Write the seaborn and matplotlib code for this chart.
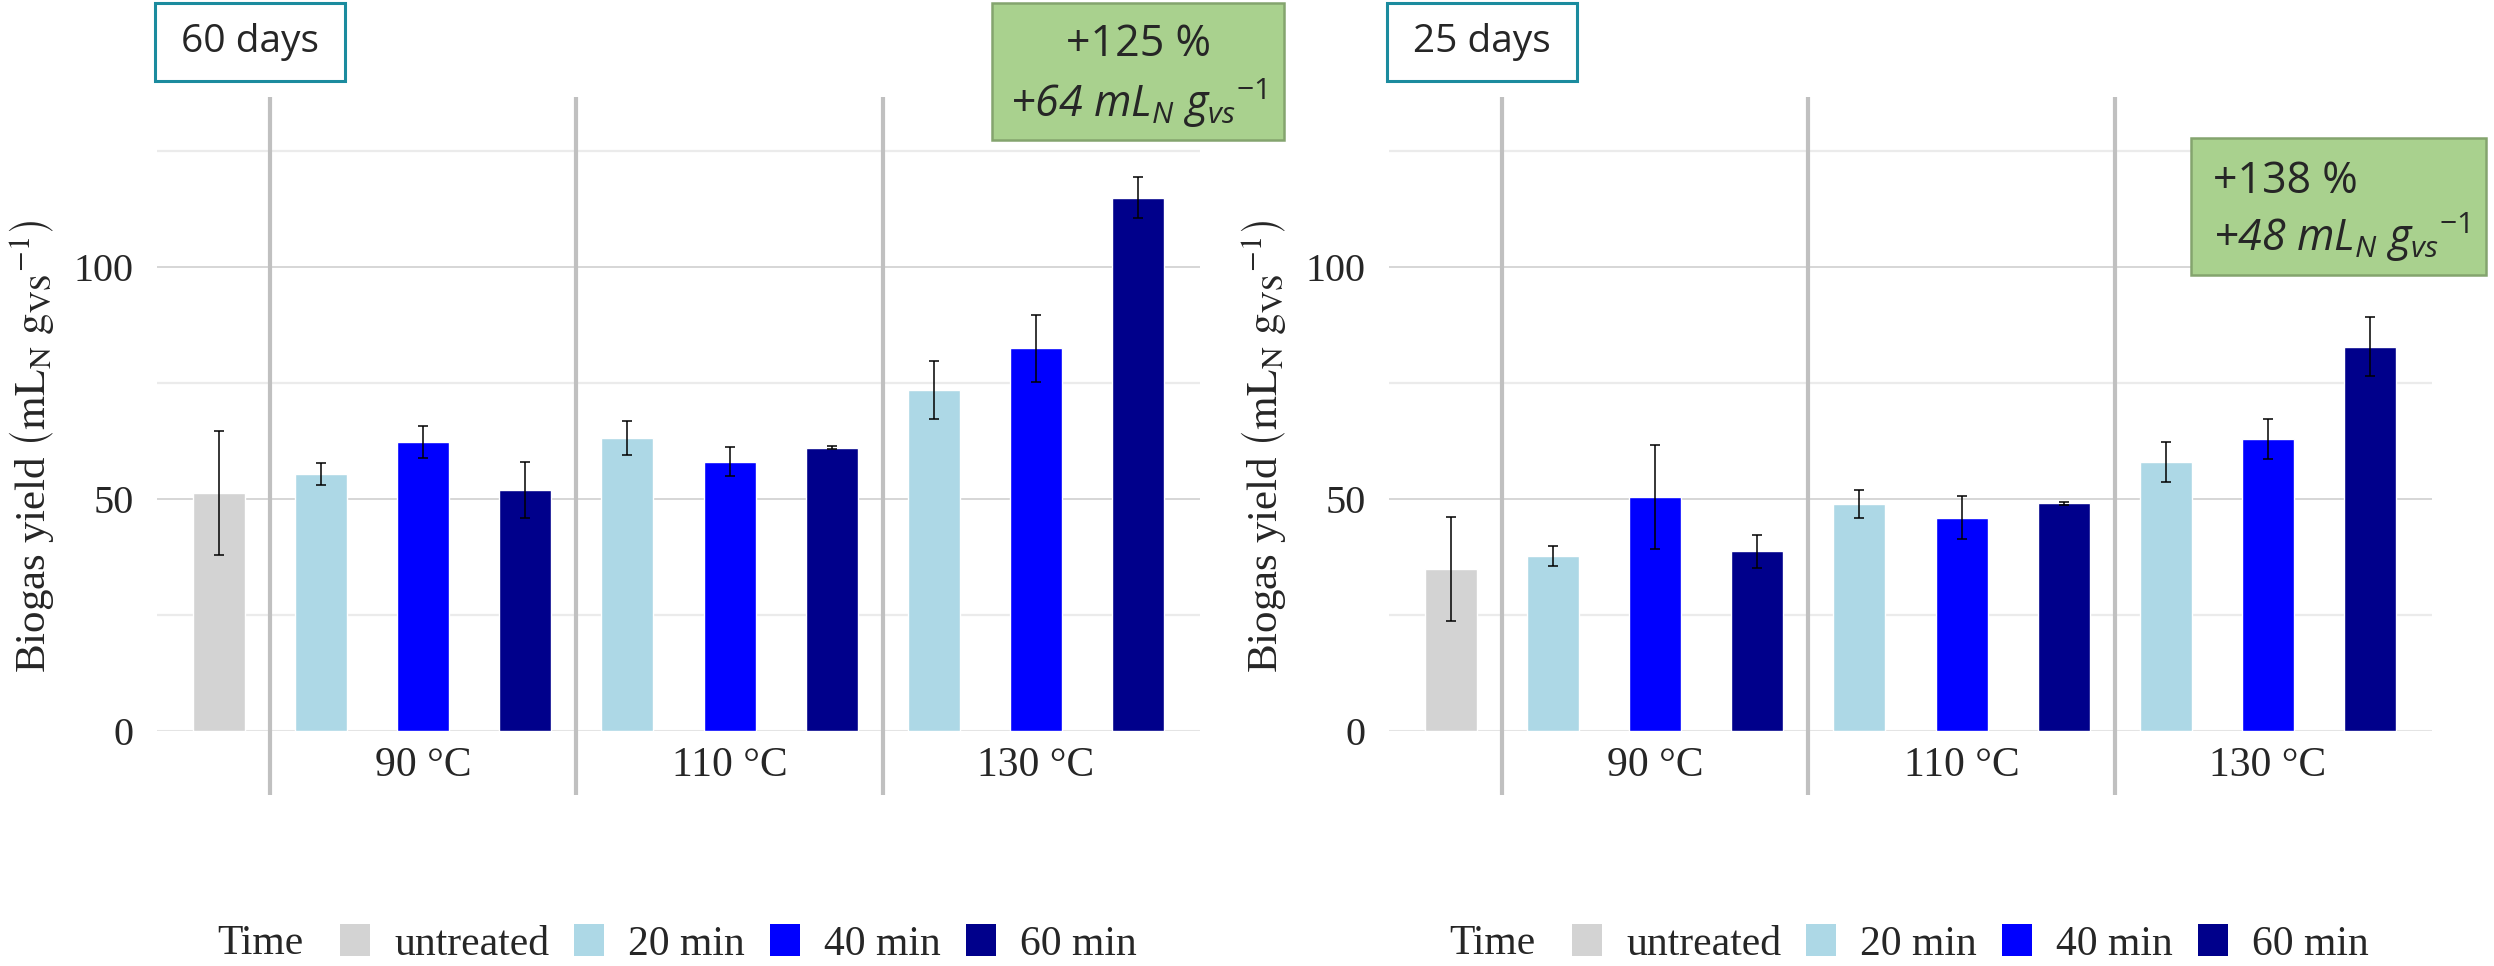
import numpy as np
import pandas as pd
import matplotlib.pyplot as plt
import seaborn as sns
from matplotlib.patches import Rectangle, Patch

# ---- data ----
times = ["untreated", "20 min", "40 min", "60 min"]
temps = ["90 °C", "110 °C", "130 °C"]
slot_temp = ["", "90 °C", "90 °C", "90 °C", "110 °C", "110 °C", "110 °C",
             "130 °C", "130 °C", "130 °C"]
slot_time = ["untreated", "20 min", "40 min", "60 min", "20 min", "40 min",
             "60 min", "20 min", "40 min", "60 min"]

yield_60 = [51.3, 55.4, 62.3, 51.9, 63.1, 58.0, 61.0, 73.5, 82.5, 114.9]
sd_60 = [13.3, 2.4, 3.4, 6.0, 3.7, 3.1, 0.3, 6.2, 7.2, 4.4]
yield_25 = [34.9, 37.7, 50.4, 38.7, 48.9, 46.0, 49.1, 58.0, 62.9, 82.8]
sd_25 = [11.2, 2.2, 11.2, 3.5, 3.0, 4.7, 0.3, 4.3, 4.4, 6.4]

panel_titles = ["60 days", "25 days"]
gain_pct = ["+125 %", "+138 %"]
gain_abs = ["+64", "+48"]

palette = {"untreated": "#d3d3d3", "20 min": "#add8e6",
           "40 min": "#0000ff", "60 min": "#00008b"}

W, H = 2494, 966


def fx(x):
    return x / W


def fy(y):
    return 1 - y / H


sns.set_style("white")
plt.rcParams["font.family"] = ["Liberation Serif", "DejaVu Serif"]
plt.rcParams["mathtext.fontset"] = "custom"
plt.rcParams["mathtext.rm"] = "Open Sans"
plt.rcParams["mathtext.it"] = "Open Sans:italic"
plt.rcParams["mathtext.bf"] = "Open Sans:bold"

fig = plt.figure(figsize=(W / 100, H / 100), dpi=100)

slot_ids = [f"{t}|{m}" for t, m in zip(slot_temp, slot_time)]
ylabel = r"Biogas yield $\left(\mathrm{mL_{N}\ g_{VS}}{}^{\mathrm{-1}}\right)$"
sans = ["Open Sans", "DejaVu Sans"]

panels = [(yield_60, sd_60), (yield_25, sd_25)]
offsets = [0, 1232]

for i, (vals, sds) in enumerate(panels):
    off = offsets[i]
    ax = fig.add_axes([fx(157 + off), fy(731), 1043 / W, 634 / H])
    df = pd.DataFrame({"slot": slot_ids, "time": slot_time,
                       "value": vals, "sd": sds})
    sns.barplot(data=df, x="slot", y="value", hue="time", order=slot_ids,
                hue_order=times, palette=palette, dodge=False, width=0.51,
                saturation=1, errorbar=None, legend=False, ax=ax, zorder=2)
    pos = np.arange(len(slot_ids))
    ax.errorbar(pos, df["value"], yerr=df["sd"], fmt="none", ecolor="black",
                elinewidth=1.1, capsize=3.8, capthick=1.1, zorder=3)

    ax.set_xlim(-0.61, len(slot_ids) - 1 + 0.61)
    top = 136.6
    ax.set_ylim(0, top)
    ax.set_yticks([0, 50, 100])
    ax.set_yticks([25, 75, 125], minor=True)
    ax.yaxis.grid(True, which="major", color="#cccccc", lw=1.1)
    ax.yaxis.grid(True, which="minor", color="#ebebeb", lw=1.6)
    ax.xaxis.grid(False)
    ax.set_axisbelow(True)
    ax.axhline(0, color="#e4e4e4", lw=2.2, zorder=0.6)

    # group labels and separators
    centers = [pos[[s == t for s in slot_temp]].mean() for t in temps]
    ax.set_xticks(centers)
    ax.set_xticklabels(temps)
    seps = [p - 0.5 for p in pos[1:] if slot_temp[p] != slot_temp[p - 1]]
    ax.vlines(seps, -13.8, top, colors="#c0c0c0", lw=3, clip_on=False,
              zorder=1.5)

    ax.tick_params(axis="y", which="both", length=0, pad=16.6, labelsize=29)
    ax.tick_params(axis="x", length=0, pad=11, labelsize=30)
    ax.set_xlabel("")
    ax.set_ylabel("")
    sns.despine(ax=ax, left=True, bottom=True)

    fig.text(fx(32 + off), fy(447), ylabel, rotation=90, ha="center",
             va="center", fontsize=31, math_fontfamily="stix")

    # panel title box
    fig.add_artist(Rectangle((fx(155 + off), fy(81)), 190 / W, 78 / H,
                             transform=fig.transFigure, facecolor="white",
                             edgecolor="#1b8b9e", lw=2.2, zorder=5))
    fig.text(fx(250 + off), fy(42), panel_titles[i], ha="center",
             va="center", fontsize=28, family=sans, zorder=6)

    # legend
    fig.text(fx(217 + off), fy(944), "Time", ha="left", va="center",
             fontsize=30)
    handles = [Patch(facecolor=palette[t], edgecolor="none") for t in times]
    fig.legend(handles, times, loc="center left",
               bbox_to_anchor=(fx(340 + off), fy(944)), ncol=4,
               frameon=False, fontsize=30, handlelength=0.72,
               handleheight=0.77, handletextpad=0.58, columnspacing=0.6,
               borderpad=0, borderaxespad=0)

# gain boxes
green_face, green_edge = "#a9d18e", "#84a46e"
fig.add_artist(Rectangle((fx(992), fy(140)), 292 / W, 137 / H,
                         transform=fig.transFigure, facecolor=green_face,
                         edgecolor=green_edge, lw=1.8, zorder=5))
fig.text(fx(1138), fy(56), gain_pct[0], ha="center", va="baseline",
         fontsize=31, family=sans, zorder=6)
fig.text(fx(1138), fy(117),
         gain_abs[0] + r" mL$_\mathit{N}$ g$_\mathit{vs}{}^\mathit{-1}$",
         ha="center", va="baseline", fontsize=31, family=sans,
         style="italic", zorder=6)

fig.add_artist(Rectangle((fx(2191), fy(275)), 295 / W, 137 / H,
                         transform=fig.transFigure, facecolor=green_face,
                         edgecolor=green_edge, lw=1.8, zorder=5))
fig.text(fx(2213), fy(193), gain_pct[1], ha="left", va="baseline",
         fontsize=31, family=sans, zorder=6)
fig.text(fx(2213), fy(251),
         gain_abs[1] + r" mL$_\mathit{N}$ g$_\mathit{vs}{}^\mathit{-1}$",
         ha="left", va="baseline", fontsize=31, family=sans,
         style="italic", zorder=6)

fig.savefig("out.png", dpi=100)
